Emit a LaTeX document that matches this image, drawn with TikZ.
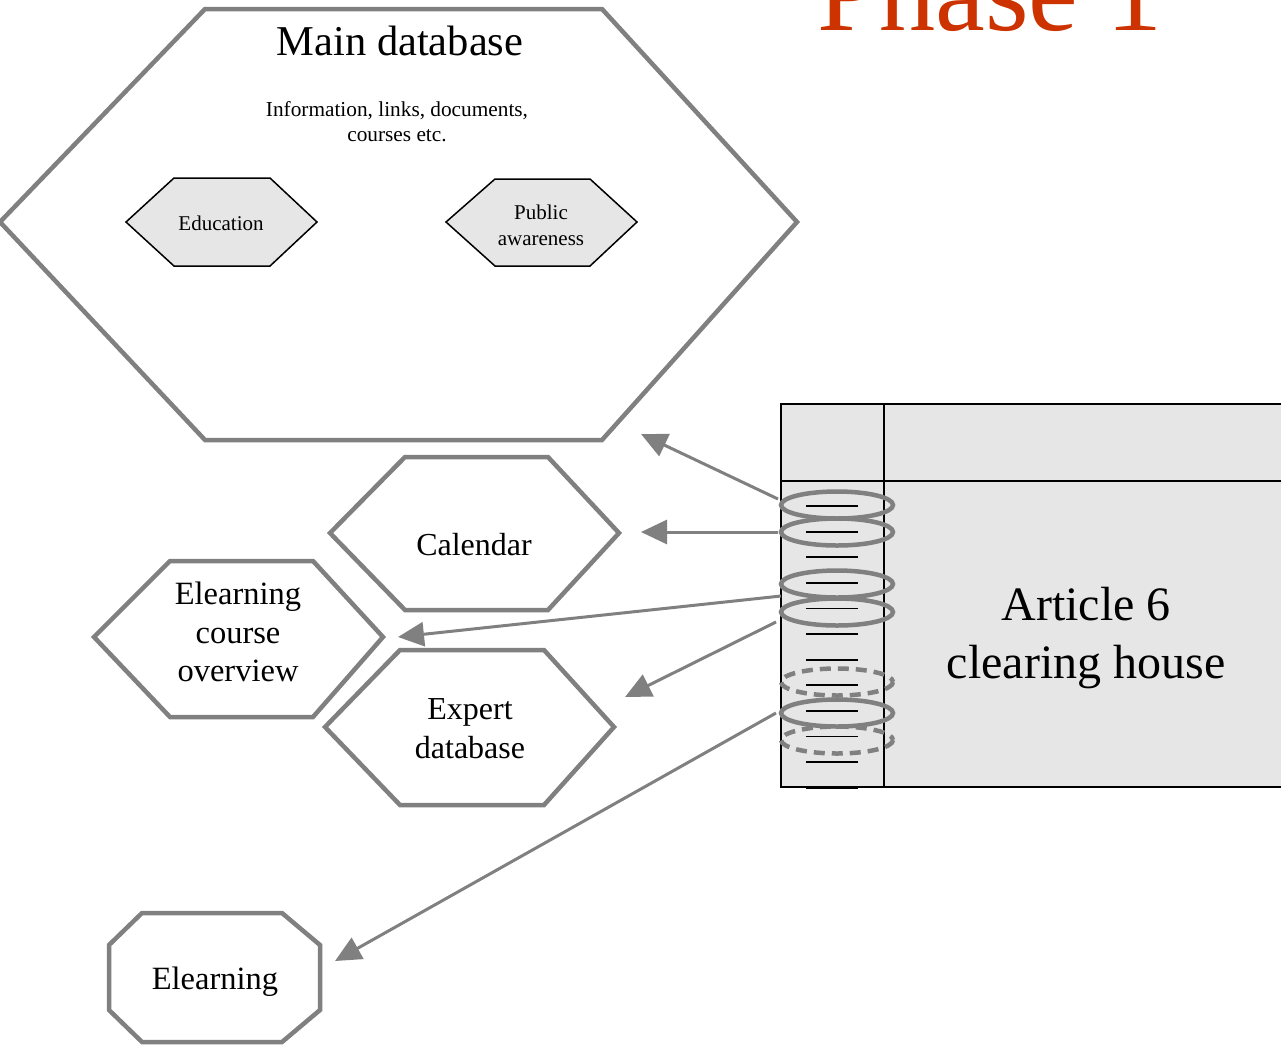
\documentclass[tikz,border=0pt]{standalone}
\usepackage{fontspec}
\setmainfont{Liberation Serif}
\usetikzlibrary{arrows.meta}
\definecolor{outl}{HTML}{808080}
\definecolor{boxfill}{HTML}{E6E6E6}
\definecolor{titlered}{HTML}{CC3300}
\tikzset{
  bigshape/.style={draw=outl, line width=4.5pt, line join=miter, fill=white},
  smallhex/.style={draw=black, line width=1.5pt, fill=boxfill},
  ring/.style={draw=outl, line width=4.5pt},
  dashring/.style={draw=outl, line width=4.5pt, dash pattern=on 11pt off 7pt},
  link/.style={draw=outl, line width=3pt, -{Triangle[length=26pt,width=24pt]}},
  lbl/.style={align=center, inner sep=0pt},
}
\begin{document}
\begin{tikzpicture}[x=1pt,y=-1pt]
\useasboundingbox (0,0) rectangle (1281,1045);

% Title
\node[anchor=base, inner sep=0pt, text=titlered, font=\fontsize{112}{120}\selectfont] (title) at (990,30) {Phase 1};

% Main database
\draw[bigshape] (205,9) -- (602,9) -- (797,222) -- (602,440) -- (205,440) -- (0,222) -- cycle;
\node[lbl, font=\fontsize{42.5}{48}\selectfont] (maindb) at (400,41) {Main database};
\node[lbl, font=\fontsize{21.3}{25}\selectfont] (info) at (397,122) {Information, links, documents,\\courses etc.};

\draw[smallhex] (126,222) -- (174,178) -- (270,178) -- (317,222) -- (270,266) -- (174,266) -- cycle;
\node[lbl, font=\fontsize{21}{25}\selectfont] (edu) at (221,223) {Education};
\draw[smallhex] (446,222) -- (495,179) -- (590,179) -- (637,222) -- (590,266) -- (495,266) -- cycle;
\node[lbl, font=\fontsize{21}{26}\selectfont] (pub) at (541,225) {Public\\awareness};

% Calendar
\draw[bigshape] (330,533) -- (405,457) -- (548,457) -- (619,533) -- (548,610) -- (405,610) -- cycle;
\node[lbl, font=\fontsize{32}{38}\selectfont] (cal) at (474,545) {Calendar};

% Elearning course overview
\draw[bigshape] (94,637) -- (170,561) -- (313,561) -- (383,637) -- (313,717) -- (170,717) -- cycle;
\node[lbl, font=\fontsize{32.5}{38.5}\selectfont] (eco) at (238,632) {Elearning\\course\\overview};

% Expert database
\draw[bigshape] (325,727) -- (400,650) -- (544,650) -- (614,727) -- (544,805) -- (400,805) -- cycle;
\node[lbl, font=\fontsize{32}{39}\selectfont] (exp) at (470,729) {Expert\\database};

% Elearning octagon
\draw[bigshape] (142,913) -- (282,913) -- (320,945) -- (320,1010) -- (282,1042) -- (142,1042) -- (109,1010) -- (109,945) -- cycle;
\node[lbl, font=\fontsize{32.5}{38}\selectfont] (elr) at (215,982) {Elearning};

% Article 6 box
\draw[fill=boxfill, draw=black, line width=1.6pt] (781,404) rectangle (1295,787);
\draw[black, line width=1.6pt] (884,404) -- (884,787);
\draw[black, line width=1.6pt] (781,481) -- (1295,481);
\node[lbl, font=\fontsize{48}{58}\selectfont] (art) at (1086,638) {Article 6\\ clearing house};

% binder lines
\foreach \k in {0,...,11} {
  \draw[black, line width=1.8pt] (806,{506+25.6*\k}) -- (858,{506+25.6*\k});
}
% rings
\foreach \yy in {505,532,584,612,713} {
  \draw[ring] (837,\yy) ellipse [x radius=56, y radius=13.5];
}
\foreach \yy in {682,740} {
  \draw[dashring] (837,\yy) ellipse [x radius=56, y radius=13.5];
}

% connector coordinates
\coordinate (s1) at (778,499);
\coordinate (s2) at (778,532);
\coordinate (s3) at (781,596);
\coordinate (s4) at (776,622);
\coordinate (s5) at (776,713);
\coordinate (e1) at (641,434);
\coordinate (e2) at (641,532);
\coordinate (e3) at (398,637);
\coordinate (e4) at (625,697);
\coordinate (e5) at (335,961);
\draw[link] (s1) -- (e1);
\draw[link] (s2) -- (e2);
\draw[link] (s3) -- (e3);
\draw[link] (s4) -- (e4);
\draw[link] (s5) -- (e5);
\end{tikzpicture}
\end{document}
